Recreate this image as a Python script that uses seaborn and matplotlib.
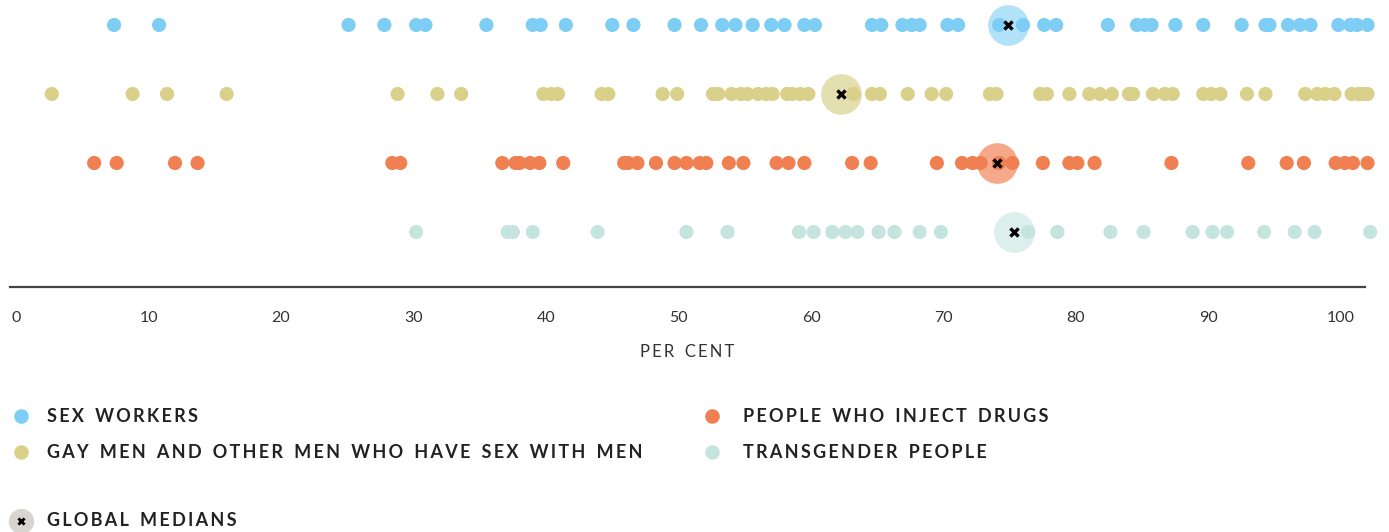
import numpy as np
import pandas as pd
import matplotlib
matplotlib.use("Agg")
import matplotlib.pyplot as plt
import seaborn as sns

groups = ["SEX WORKERS", "GAY MEN AND OTHER MEN WHO HAVE SEX WITH MEN",
          "PEOPLE WHO INJECT DRUGS", "TRANSGENDER PEOPLE"]
colors = ["#7dcdf4", "#d9d18a", "#f08052", "#c5e4e0"]
median_colors = ["#b2e2f8", "#e4dfae", "#f5a98a", "#dbefec"]

sex_workers = [7.4, 10.8, 25.1, 27.8, 30.2, 30.9, 35.5, 39.0, 39.6, 41.5, 45.0, 46.6,
               49.7, 51.7, 53.3, 54.3, 55.6, 57.0, 58.0, 59.5, 60.3, 64.6, 65.3, 66.9,
               67.6, 68.2, 70.3, 71.1, 74.2, 76.0, 77.6, 78.5, 82.4, 84.6, 85.2, 85.7,
               87.5, 89.6, 92.5, 94.3, 94.6, 96.0, 96.9, 97.7, 99.8, 100.7, 101.2, 102.0]
gay_men = [2.7, 8.8, 11.4, 15.9, 28.8, 31.8, 33.6, 39.8, 40.4, 40.9, 44.2, 44.7, 48.8,
           49.9, 52.6, 53.0, 54.0, 54.7, 55.2, 56.0, 56.6, 57.1, 58.2, 58.6, 59.2, 59.8,
           63.2, 64.6, 65.2, 67.3, 69.1, 70.2, 73.5, 74.0, 77.3, 77.8, 79.5, 81.0, 81.8,
           82.7, 84.0, 84.3, 85.8, 86.7, 87.3, 89.6, 90.2, 90.9, 92.9, 94.3, 97.3, 98.2,
           98.8, 99.5, 100.8, 101.3, 101.6, 102.0]
pwid = [5.9, 7.6, 12.0, 13.7, 28.4, 29.0, 36.7, 37.7, 38.0, 38.8, 39.5, 41.3, 45.9,
        46.2, 46.9, 48.3, 49.7, 50.6, 51.6, 52.1, 53.8, 54.9, 57.4, 58.3, 59.5, 63.1,
        64.5, 69.5, 71.4, 72.2, 72.8, 74.2, 75.2, 77.5, 79.5, 80.1, 81.4, 87.2, 93.0,
        95.9, 97.2, 99.6, 100.3, 100.9, 102.0]
transgender = [30.2, 37.1, 37.5, 39.0, 43.9, 50.6, 53.7, 59.1, 60.2, 61.6, 62.6, 63.5,
               65.1, 66.3, 68.2, 69.8, 76.4, 78.6, 82.6, 85.1, 88.8, 90.3, 91.4, 94.2,
               96.5, 98.0, 102.2]
medians = [74.9, 62.3, 74.0, 75.3]
tick_values = list(range(0, 101, 10))

df = pd.concat([
    pd.DataFrame({"value": v, "group": g})
    for v, g in zip([sex_workers, gay_men, pwid, transgender], groups)
], ignore_index=True)

sns.set_theme(style="white")
plt.rcParams["font.family"] = ["Lato", "DejaVu Sans"]

W, H = 1389, 532
fig = plt.figure(figsize=(W / 100, H / 100), dpi=100)
ax = fig.add_axes([10 / W, 1 - 287 / H, 1355 / W, 287 / H])

# median halos
for i, (m, c) in enumerate(zip(medians, median_colors)):
    ax.scatter([m], [groups[i]], s=860, color=c, linewidths=0, zorder=1, clip_on=False)

sns.stripplot(data=df, x="value", y="group", hue="group", order=groups,
              hue_order=groups, palette=colors, jitter=False, size=10.2,
              linewidth=0, legend=False, ax=ax, zorder=2, clip_on=False)

ax.scatter(medians, groups, marker="x", s=34, color="black", linewidths=2.4, zorder=5,
           clip_on=False)

ax.set_xlim(-0.453, 101.81)
ax.set_ylim(3.797, -0.362)
ax.set_xticks(tick_values)
ax.set_xticklabels([str(t) for t in tick_values])
ax.tick_params(axis="x", length=0, pad=17, labelsize=11.5, labelcolor="#333333")
ax.set_yticks([])
ax.set_ylabel("")
ax.set_xlabel("P\u2009E\u2009R\u2009  C\u2009E\u2009N\u2009T", fontsize=12,
              color="#333333", labelpad=14)
for s in ["top", "left", "right"]:
    ax.spines[s].set_visible(False)
ax.spines["bottom"].set_color("#444444")
ax.spines["bottom"].set_linewidth(1.6)
ax.grid(False)

# legend overlay in pixel coordinates
lg = fig.add_axes([0, 0, 1, 1], facecolor="none")
lg.set_xlim(0, W)
lg.set_ylim(H, 0)
lg.axis("off")


def spaced(s):
    return "\u2009".join(s).replace("\u2009 \u2009", "\u2009 \u2009\u2009")


legend_items = [(21, 47, 416, 0), (21, 47, 452, 1), (712, 743, 416, 2), (712, 743, 452, 3)]
for mx, tx, y, gi in legend_items:
    lg.scatter([mx], [y], s=110, color=colors[gi], linewidths=0, clip_on=False)
    lg.text(tx, y, spaced(groups[gi]), fontsize=13, fontweight="bold",
            color="#222222", va="center", ha="left")

lg.scatter([21], [521], s=330, color="#d9d4d0", linewidths=0, clip_on=False)
lg.scatter([21], [521], marker="x", s=20, color="black", linewidths=2, clip_on=False)
lg.text(47, 521, spaced("GLOBAL MEDIANS"), fontsize=13, fontweight="bold",
        color="#222222", va="center", ha="left")

fig.savefig("out.png", dpi=100)
